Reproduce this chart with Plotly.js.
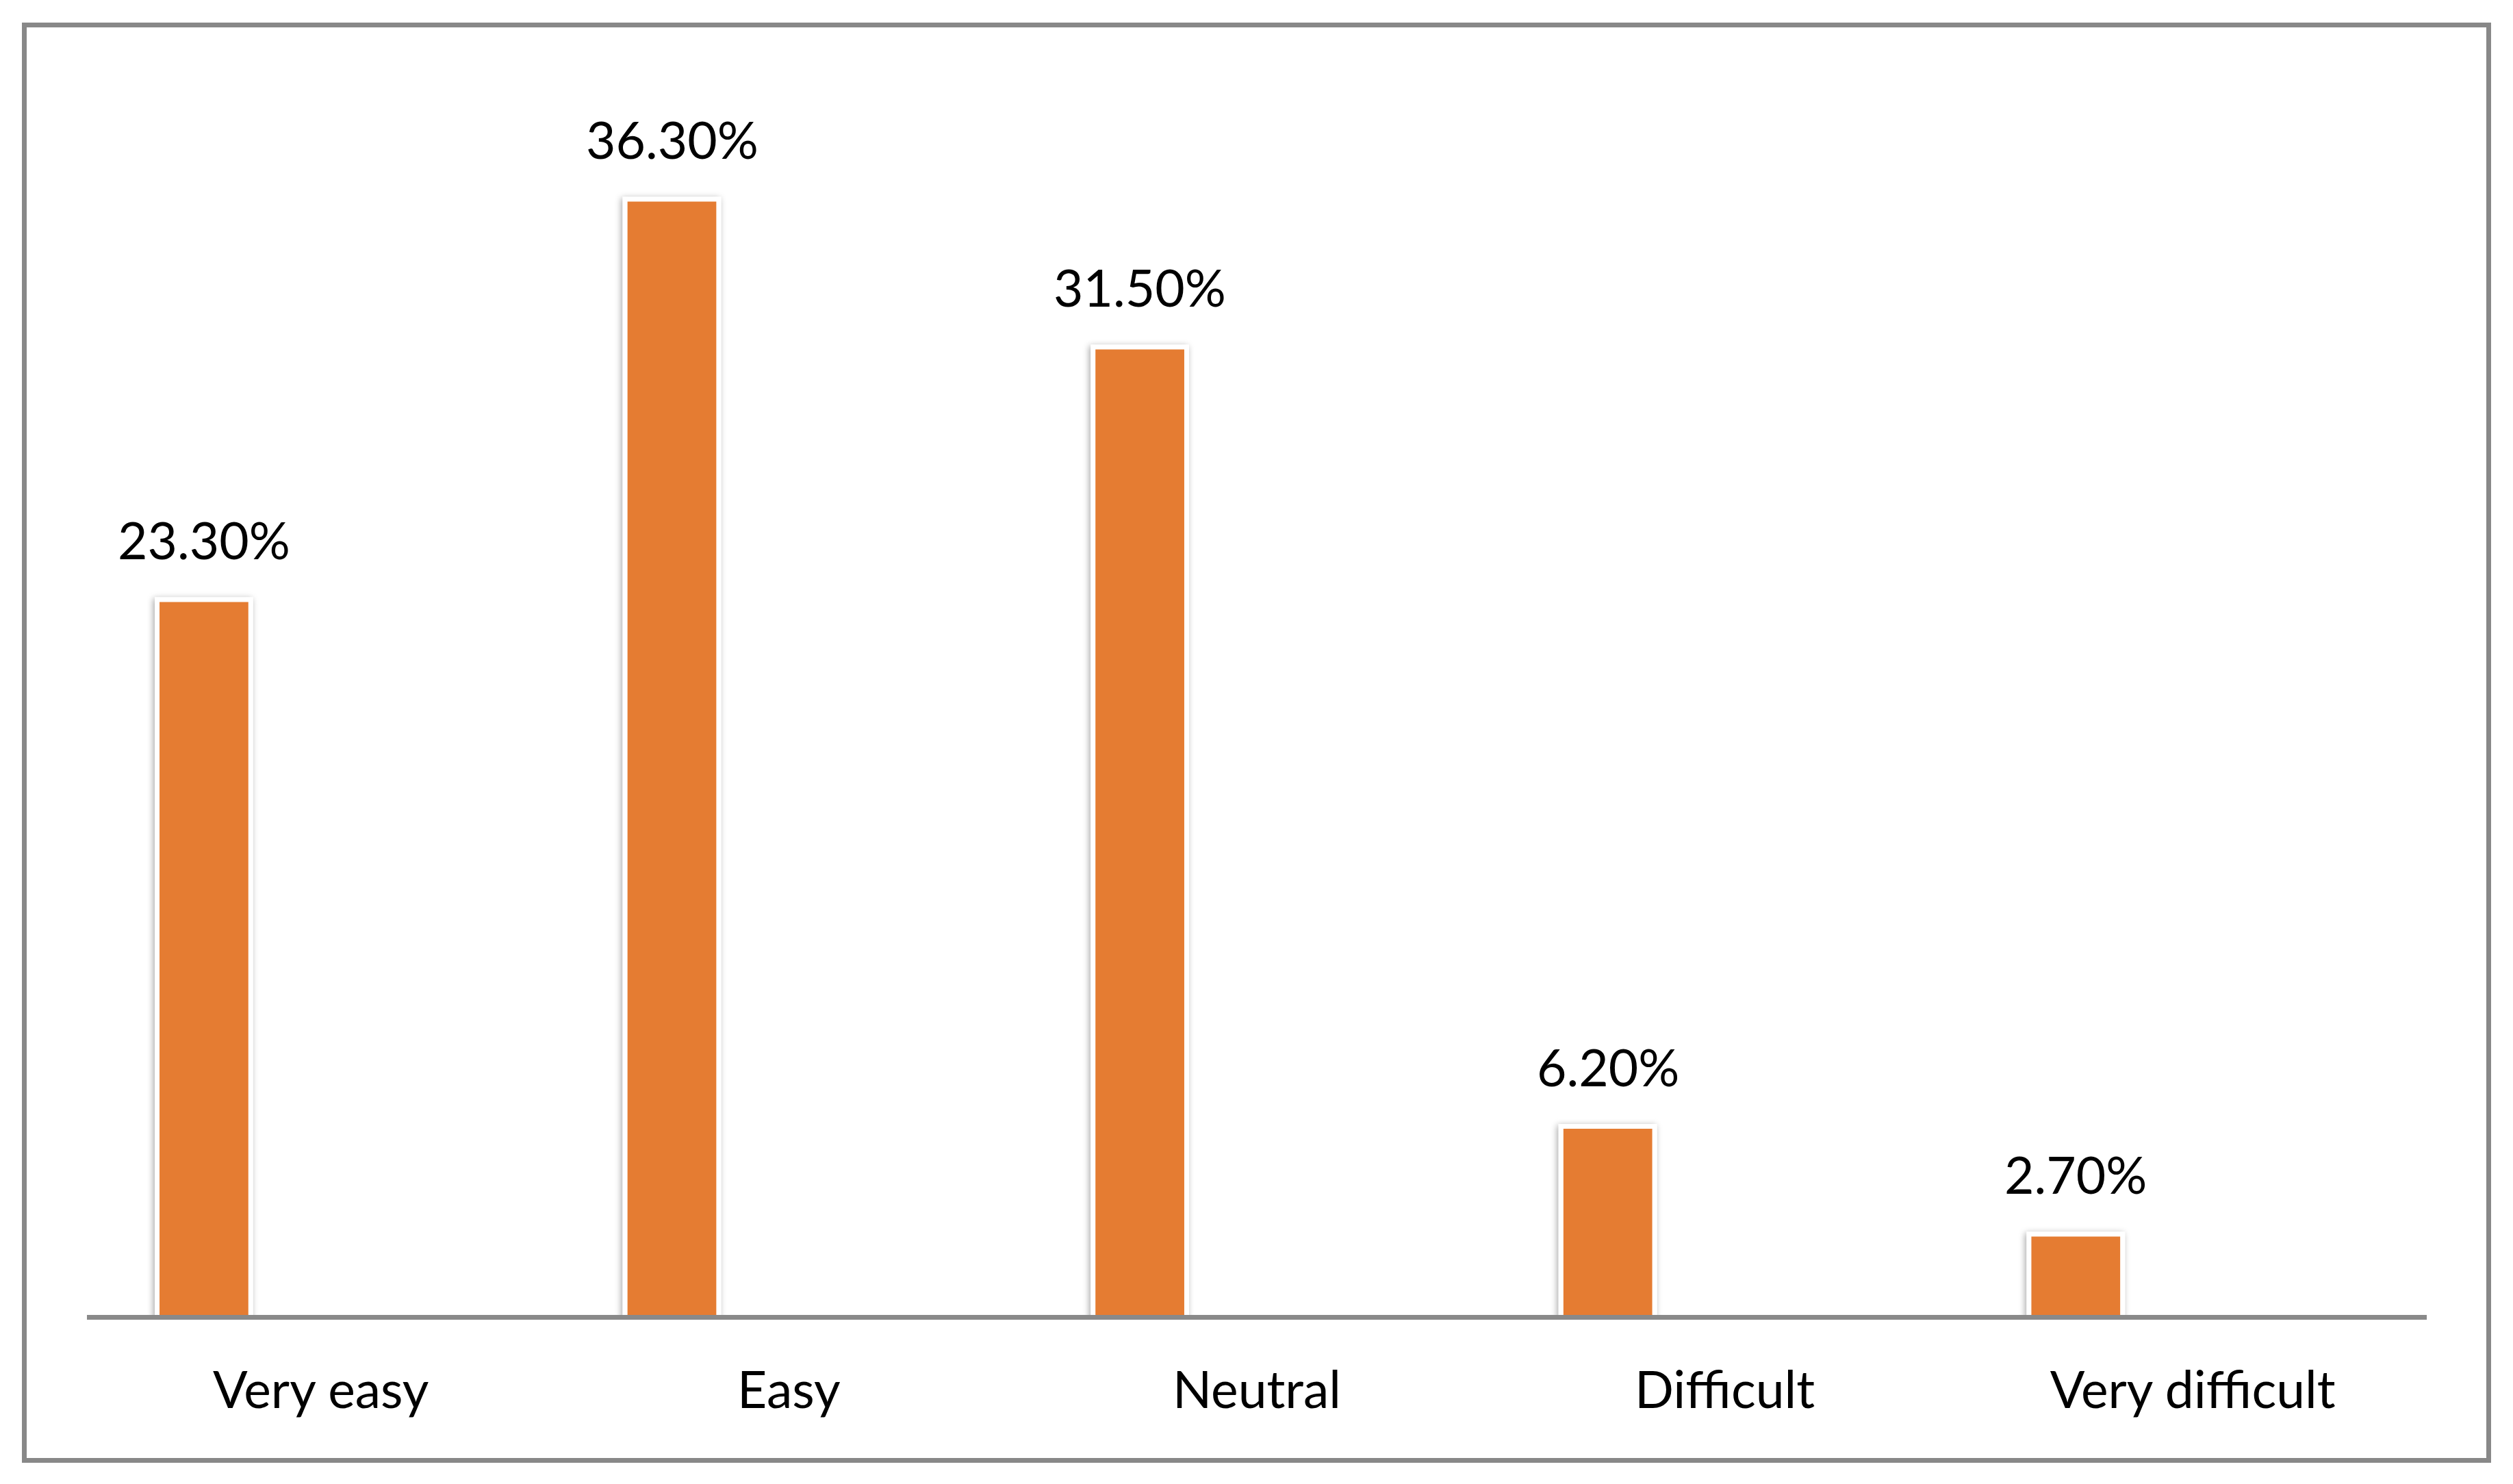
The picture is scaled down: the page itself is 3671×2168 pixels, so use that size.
<!DOCTYPE html>
<html>
<head>
<meta charset="utf-8">
<script src="https://cdn.plot.ly/plotly-3.0.1.min.js"></script>
<style>
  html, body { margin: 0; padding: 0; background: #ffffff; }
  #chart { width: 3671px; height: 2168px; }
</style>
</head>
<body>
<div id="chart"></div>
<script>
// ---- data ----
const categories = ['Very easy', 'Easy', 'Neutral', 'Difficult', 'Very difficult'];
const values = [23.3, 36.3, 31.5, 6.2, 2.7];
const valueLabels = values.map(v => v.toFixed(2) + '%');

// ---- layout geometry (pixels) ----
const W = 3671, H = 2168;
const mL = 127, mR = 126, mT = 128, mB = 247;
const plotW = W - mL - mR;          // 3418
const plotH = H - mT - mB;          // 1793
const pxPerUnit = 45;               // pixels per percentage point
const y0 = 3.5 / pxPerUnit;         // zero sits under the centre of the axis line
const y1 = y0 + plotH / pxPerUnit;
const barWidth = 0.2;
const barOffset = -0.35;
const catPx = plotW / categories.length;
const labelShift = (barOffset + barWidth / 2) * catPx;

const fontFam = 'Lato, "Open Sans", sans-serif';

const trace = {
  type: 'bar',
  x: categories,
  y: values,
  width: barWidth,
  offset: barOffset,
  marker: { color: '#E57C30', line: { color: '#ffffff', width: 7 } },
  hoverinfo: 'none'
};

const annotations = categories.map((c, i) => ({
  x: c,
  y: values[i],
  xref: 'x',
  yref: 'y',
  text: valueLabels[i],
  showarrow: false,
  xanchor: 'center',
  yanchor: 'bottom',
  xshift: labelShift,
  yshift: 41,
  font: { family: fontFam, size: 75, color: '#000000' }
}));

// outer border in paper coords
const px2x = p => (p - mL) / plotW;
const py2y = p => (H - mB - p) / plotH;

const layout = {
  width: W,
  height: H,
  margin: { l: mL, r: mR, t: mT, b: mB, pad: 0 },
  paper_bgcolor: '#ffffff',
  plot_bgcolor: '#ffffff',
  showlegend: false,
  bargap: 0,
  xaxis: {
    type: 'category',
    categoryorder: 'array',
    categoryarray: categories,
    range: [-0.5, categories.length - 0.5],
    showline: true,
    linecolor: '#898989',
    linewidth: 7,
    showgrid: false,
    zeroline: false,
    ticks: '',
    ticklabelstandoff: 39,
    tickfont: { family: fontFam, size: 75, color: '#000000' },
    fixedrange: true
  },
  yaxis: {
    range: [y0, y1],
    visible: false,
    showgrid: false,
    zeroline: false,
    fixedrange: true
  },
  annotations: annotations,
  shapes: [{
    type: 'rect',
    xref: 'paper', yref: 'paper',
    x0: px2x(35.5), x1: px2x(3635.5),
    y0: py2y(2133.5), y1: py2y(36.5),
    line: { color: '#888888', width: 7 },
    fillcolor: 'rgba(0,0,0,0)',
    layer: 'above'
  }]
};

Plotly.newPlot('chart', [trace], layout, { staticPlot: true, displayModeBar: false }).then(() => {
  // soft shadow around the bars, as in the original
  const svg = document.querySelector('#chart svg.main-svg');
  const ns = 'http://www.w3.org/2000/svg';
  let defs = svg.querySelector('defs');
  if (!defs) { defs = document.createElementNS(ns, 'defs'); svg.insertBefore(defs, svg.firstChild); }
  const f = document.createElementNS(ns, 'filter');
  f.setAttribute('id', 'barShadow');
  f.setAttribute('x', '-30%'); f.setAttribute('y', '-10%');
  f.setAttribute('width', '160%'); f.setAttribute('height', '120%');
  const ds = document.createElementNS(ns, 'feDropShadow');
  ds.setAttribute('dx', '-2'); ds.setAttribute('dy', '2');
  ds.setAttribute('stdDeviation', '5');
  ds.setAttribute('flood-color', '#000000');
  ds.setAttribute('flood-opacity', '0.35');
  f.appendChild(ds);
  defs.appendChild(f);
  document.querySelectorAll('.trace.bars .point path').forEach(p => {
    p.setAttribute('filter', 'url(#barShadow)');
  });
});
</script>
</body>
</html>
